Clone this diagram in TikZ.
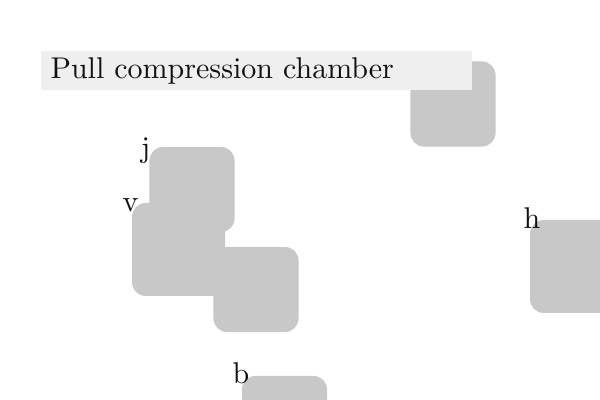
\documentclass[tikz,border=0pt]{standalone}
\usetikzlibrary{positioning}
\definecolor{boxgray}{HTML}{C8C8C8}
\definecolor{titlegray}{HTML}{EFEFEF}
\definecolor{ink}{HTML}{111111}
\tikzset{
  blk/.style={fill=boxgray, draw=none, rounded corners=4.6pt, inner sep=0pt},
  blksm/.style={blk, minimum width=28.4pt, minimum height=28.4pt},
  blklg/.style={blk, minimum width=31pt, minimum height=31pt},
  lbl/.style={anchor=base east, inner sep=0pt, text=ink},
  titlebox/.style={fill=titlegray, anchor=north west, inner xsep=3.33pt, inner ysep=2.2pt,
    text width=137.3pt, align=left, text=ink}
}
\begin{document}
\begin{tikzpicture}[x=0.33333pt,y=-0.33333pt]
\useasboundingbox (0,0) rectangle (600,400);
\node[blksm] (c) at (453,104) {};
\node[blksm] (j) at (192,189.5) {};
\node[blklg] (v) at (178.5,249.5) {};
\node[blksm] (d) at (256,289.5) {};
\node[blklg] (h) at (576.5,266.5) {};
\node[blksm] (b) at (284.5,418.5) {};
\node[titlebox] (t) at (40,50) {Pull compression chamber};
\node[lbl] (lj) at (151,158) {j};
\node[lbl] (lv) at (139,212) {v};
\node[lbl] (lh) at (541,229) {h};
\node[lbl] (lb) at (250,384) {b};
\end{tikzpicture}
\end{document}
